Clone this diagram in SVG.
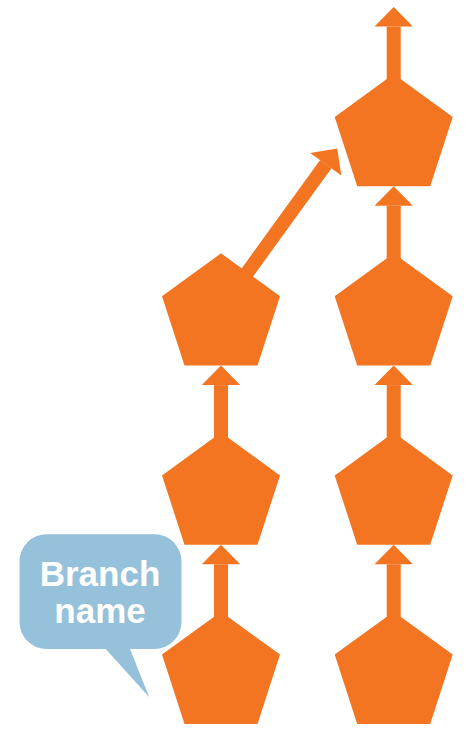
<svg xmlns="http://www.w3.org/2000/svg" width="471" height="736" viewBox="0 0 471 736">
<style>
.pent{fill:#F37421}
.conn{stroke:#F37421;stroke-width:14;fill:none;marker-end:url(#head)}
.label{font-family:"Liberation Sans",Arial,sans-serif;font-weight:bold;font-size:35px;fill:#fff;text-anchor:middle}
</style>
<defs>
<path id="pg" d="M0,0 L59,42.9 L36.5,112.3 L-36.5,112.3 L-59,42.9 Z"/>
<marker id="head" markerUnits="userSpaceOnUse" markerWidth="20" markerHeight="40" refX="0" refY="19.2" orient="auto" overflow="visible">
<path d="M0,0 L19.5,19.2 L0,38.4 Z" fill="#F37421"/>
</marker>
</defs>
<g id="connectors">
<line class="conn" x1="393.7" y1="82" x2="393.7" y2="26.5"/>
<line class="conn" x1="393.7" y1="262" x2="393.7" y2="205.8"/>
<line class="conn" x1="393.7" y1="441" x2="393.7" y2="385.1"/>
<line class="conn" x1="393.7" y1="620" x2="393.7" y2="564.3"/>
<line class="conn" x1="221" y1="441" x2="221" y2="385.1"/>
<line class="conn" x1="221" y1="620" x2="221" y2="564.3"/>
<line class="conn" x1="240" y1="282.6" x2="325.8" y2="164.2"/>
</g>
<g id="r1"><use href="#pg" class="pent" transform="translate(393.7,74)"/></g>
<g id="r2"><use href="#pg" class="pent" transform="translate(393.7,253.3)"/></g>
<g id="r3"><use href="#pg" class="pent" transform="translate(393.7,432.5)"/></g>
<g id="r4"><use href="#pg" class="pent" transform="translate(393.7,611.7)"/></g>
<g id="l2"><use href="#pg" class="pent" transform="translate(221,253.3)"/></g>
<g id="l3"><use href="#pg" class="pent" transform="translate(221,432.5)"/></g>
<g id="l4"><use href="#pg" class="pent" transform="translate(221,611.7)"/></g>
<g id="callout">
<path d="M46.5,534.3 H154.5 A27,27 0 0 1 181.5,561.3 V622 A27,27 0 0 1 154.5,649 H130 L149.3,697.3 L105.7,649 H46.5 A27,27 0 0 1 19.5,622 V561.3 A27,27 0 0 1 46.5,534.3 Z" fill="#96C1DB"/>
<text class="label" x="100" y="586">Branch</text>
<text class="label" x="100" y="623">name</text>
</g>
</svg>
